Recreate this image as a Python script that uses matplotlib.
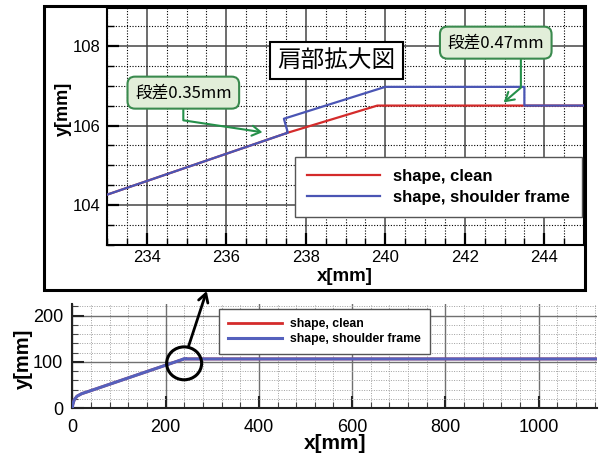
import matplotlib
import matplotlib.pyplot as plt
from matplotlib.patches import Rectangle, Ellipse
from matplotlib.ticker import MultipleLocator

matplotlib.use('Agg')

plt.rcParams['font.family'] = ['Liberation Sans', 'Noto Sans CJK JP']

# 形状データ (clean / shoulder frame)
clean_x = [0, 1, 4, 10, 20, 35, 237.55, 239.8, 1125]
clean_y = [0, 8, 18, 26, 31.5, 36.5, 105.82, 106.5, 106.5]
frame_x = [0, 1, 4, 10, 20, 35, 237.55, 237.45, 240.0, 243.5, 243.5, 1125]
frame_y = [0, 8, 18, 26, 31.5, 36.5, 105.82, 106.17, 106.97, 106.97, 106.5, 106.5]

labels = ['shape, clean', 'shape, shoulder frame']
zoom_xticks = [234, 236, 238, 240, 242, 244]
zoom_yticks = [104, 106, 108]
full_xticks = [0, 200, 400, 600, 800, 1000]
full_yticks = [0, 100, 200]

RED = '#d42b2b'
BLUE = '#4a55b4'
GREEN = '#25904a'

W, H = 600, 457


def fx(px):
    return px / W


def fy(py):
    return 1 - py / H


fig = plt.figure(figsize=(6, 4.57), dpi=100)

# 上: 肩部拡大
ax = fig.add_axes([fx(107), fy(245), (584 - 107) / W, (245 - 8) / H])
ax.plot(clean_x, clean_y, color=RED, lw=1.6, label=labels[0], zorder=3)
ax.plot(frame_x, frame_y, color=BLUE, lw=1.6, label=labels[1], zorder=4)
ax.set_xlim(233, 245)
ax.set_ylim(103, 108.95)
ax.set_xticks(zoom_xticks)
ax.set_yticks(zoom_yticks)
ax.xaxis.set_minor_locator(MultipleLocator(0.5))
ax.yaxis.set_minor_locator(MultipleLocator(0.5))
ax.grid(which='major', color='#454545', lw=1.1, ls='-')
ax.grid(which='minor', color='black', lw=0.8, ls=(0, (1, 1.5)))
ax.tick_params(which='major', direction='in', length=8.5, width=1.6, labelsize=12)
ax.tick_params(which='minor', direction='in', length=5, width=1)
ax.tick_params(axis='x', which='major', pad=3.5)
ax.tick_params(axis='y', which='major', pad=5)
for s in ax.spines.values():
    s.set_linewidth(1.5)
ax.set_xlabel('x[mm]', fontsize=13.5, fontweight='bold')
ax.set_ylabel('y[mm]', fontsize=13, fontweight='bold')
ax.xaxis.set_label_coords(0.499, -0.095)
ax.yaxis.set_label_coords(-0.074, 0.574)

ax.legend(loc='upper left', bbox_to_anchor=(fx(295), fy(157)), bbox_transform=fig.transFigure,
          borderaxespad=0, prop={'size': 12, 'weight': 'bold'}, fancybox=False,
          edgecolor='#555555', framealpha=1, handlelength=4.4, handletextpad=0.75,
          borderpad=0.72, labelspacing=0.34)

ax.text(238.77, 107.64, '肩部拡大図', ha='center', va='center', fontsize=17,
        family='Noto Sans CJK JP', zorder=6,
        bbox=dict(boxstyle='square,pad=0.3', fc='white', ec='black', lw=1.5))

callout = dict(boxstyle='round,pad=0.45,rounding_size=0.45', fc='#e2eed9', ec='#3a8a4e', lw=1.5)
ax.annotate('段差0.35mm', xy=(236.91, 105.83), xytext=(234.92, 106.825),
            ha='center', va='center', fontsize=12, family='Noto Sans CJK JP',
            bbox=callout, zorder=6,
            arrowprops=dict(arrowstyle='->,head_length=0.5,head_width=0.3', color=GREEN, lw=1.5,
                            connectionstyle='angle,angleA=90,angleB=-8.6,rad=0',
                            relpos=(0.5, 0), shrinkA=0, shrinkB=0))
ax.annotate('段差0.47mm', xy=(242.98, 106.58), xytext=(242.78, 108.08),
            ha='center', va='center', fontsize=12, family='Noto Sans CJK JP',
            bbox=callout, zorder=6,
            arrowprops=dict(arrowstyle='->,head_length=0.5,head_width=0.3', color=GREEN, lw=1.5,
                            connectionstyle='angle,angleA=90,angleB=40.6,rad=0',
                            relpos=(0.76, 0), shrinkA=0, shrinkB=0))

fig.add_artist(Rectangle((fx(44), fy(290)), (585 - 44) / W, (290 - 6) / H,
                         transform=fig.transFigure, fill=False, ec='black', lw=2.2))

# 下: 全体
ax2 = fig.add_axes([fx(72.3), fy(408.3), (597 - 72.3) / W, (408.3 - 304) / H])
ax2.plot(clean_x, clean_y, color=RED, lw=2, label=labels[0], zorder=3)
ax2.plot(frame_x, frame_y, color='#5561bd', lw=2.2, label=labels[1], zorder=4)
ax2.set_xlim(0, 1125)
ax2.set_ylim(0, 225)
ax2.set_xticks(full_xticks)
ax2.set_yticks(full_yticks)
ax2.xaxis.set_minor_locator(MultipleLocator(40))
ax2.yaxis.set_minor_locator(MultipleLocator(20))
ax2.grid(which='major', color='#707070', lw=1.0, ls='-')
ax2.grid(which='minor', color='#a0a0a0', lw=0.7, ls=(0, (1, 1.5)))
ax2.tick_params(which='major', direction='in', length=8.5, width=1.5, labelsize=13, color='#222222')
ax2.tick_params(which='minor', direction='in', length=4, width=0.8, color='#444444')
ax2.tick_params(axis='x', which='major', pad=7.5)
ax2.tick_params(axis='y', which='major', pad=6.5)
ax2.spines['top'].set_visible(False)
ax2.spines['right'].set_visible(False)
for s in ['left', 'bottom']:
    ax2.spines[s].set_linewidth(1.5)
    ax2.spines[s].set_color('#222222')
ax2.set_xlabel('x[mm]', fontsize=15, fontweight='bold')
ax2.set_ylabel('y[mm]', fontsize=14.5, fontweight='bold')
ax2.xaxis.set_label_coords(0.5, -0.249)
ax2.yaxis.set_label_coords(-0.0743, 0.479)

ax2.legend(loc='upper left', bbox_to_anchor=(fx(219), fy(309)), bbox_transform=fig.transFigure,
           borderaxespad=0, prop={'size': 8.8, 'weight': 'bold'}, fancybox=False,
           edgecolor='#555555', framealpha=1, handlelength=4.4, handletextpad=0.7,
           borderpad=0.75, labelspacing=0.24)

ax2.add_patch(Ellipse((clean_x[7], 97), 75, 71, fill=False, ec='black', lw=2.2,
                      clip_on=False, zorder=6))
ax2.annotate('', xy=(fx(206.7), fy(291)), xycoords='figure fraction',
             xytext=(249, 133), textcoords='data',
             arrowprops=dict(arrowstyle='->,head_length=0.6,head_width=0.35', color='black',
                             lw=2, shrinkA=0, shrinkB=0))

fig.savefig('out.png', dpi=100)
